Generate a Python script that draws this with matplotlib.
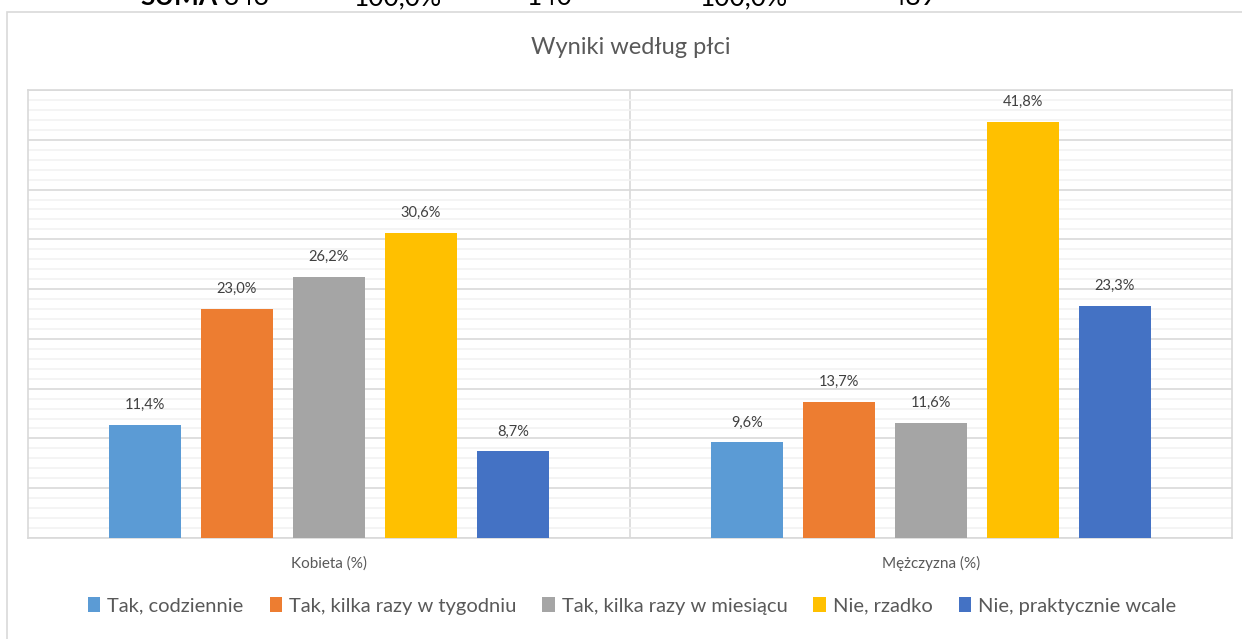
import matplotlib
matplotlib.use("Agg")
import matplotlib.pyplot as plt
from matplotlib.patches import Rectangle, Patch
from matplotlib.ticker import MultipleLocator

plt.rcParams['font.family'] = ['Lato', 'DejaVu Sans']

# data
categories = ['Kobieta (%)', 'Mężczyzna (%)']
series = ['Tak, codziennie', 'Tak, kilka razy w tygodniu',
          'Tak, kilka razy w miesiącu', 'Nie, rzadko', 'Nie, praktycznie wcale']
kobieta = [11.4, 23.0, 26.2, 30.6, 8.7]
mezczyzna = [9.6, 13.7, 11.6, 41.8, 23.3]
colors = ['#5B9BD5', '#ED7D31', '#A5A5A5', '#FFC000', '#4472C4']

# cut-off table row above the chart
top_row = ['343', '100,0%', '140', '100,0%', '489']
top_row_x = [224, 354, 527, 700, 891]

W, H = 1242, 639
fig = plt.figure(figsize=(W / 100, H / 100), dpi=100)

# outer chart frame
fig.patches.append(Rectangle((7 / W, -0.1), 1.2, 1 - 12 / H + 0.1,
                             transform=fig.transFigure, fill=False,
                             edgecolor='#D9D9D9', linewidth=1.2, zorder=0))

fig.text(140 / W, 1 - 5 / H, 'SUMA', fontsize=19, fontweight='bold',
         va='baseline', ha='left', color='black')
for txt, px in zip(top_row, top_row_x):
    fig.text(px / W, 1 - 5 / H, txt, fontsize=19, va='baseline', ha='left',
             color='black')

ax = fig.add_axes([28 / W, 1 - 538 / H, 1204 / W, 448 / H])

values = [kobieta, mezczyzna]
step = 0.1528
width = 0.12
for i, name in enumerate(series):
    xs = [c + (i - 2) * step for c in range(len(categories))]
    hs = [v[i] for v in values]
    bars = ax.bar(xs, hs, width=width, color=colors[i], label=name, zorder=3)
    for b, h in zip(bars, hs):
        ax.annotate(f"{h:.1f}".replace('.', ',') + '%',
                    (b.get_x() + b.get_width() / 2, h),
                    xytext=(0, 11.5), textcoords='offset points',
                    ha='center', va='baseline', fontsize=10.5, color='#404040')

ax.set_ylim(0, 45)
ax.set_xlim(-0.5, 1.5)
ax.yaxis.set_major_locator(MultipleLocator(5))
ax.yaxis.set_minor_locator(MultipleLocator(1))
ax.grid(axis='y', which='major', color='#D9D9D9', linewidth=1.2, zorder=0)
ax.grid(axis='y', which='minor', color='#F2F2F2', linewidth=1.2, zorder=0)
ax.axvline(0.5, color='#D9D9D9', linewidth=1.2, zorder=1)
ax.tick_params(axis='y', which='both', left=False, labelleft=False)
ax.set_xticks(range(len(categories)))
ax.set_xticklabels(categories, fontsize=11, color='#595959')
ax.tick_params(axis='x', length=0, pad=13)
for s in ax.spines.values():
    s.set_color('#D9D9D9')
    s.set_linewidth(1.2)

fig.text(631 / W, 1 - 47 / H, 'Wyniki według płci', fontsize=17,
         color='#595959', ha='center', va='center')

handles = [Patch(facecolor=c, label=s) for c, s in zip(colors, series)]
fig.legend(handles=handles, loc='center', bbox_to_anchor=(632 / W, 1 - 606 / H),
           ncol=5, frameon=False, fontsize=14.5, handlelength=0.6,
           handleheight=0.7, handletextpad=0.35, columnspacing=1.3,
           labelcolor='#595959')

fig.savefig('out.png', dpi=100)
